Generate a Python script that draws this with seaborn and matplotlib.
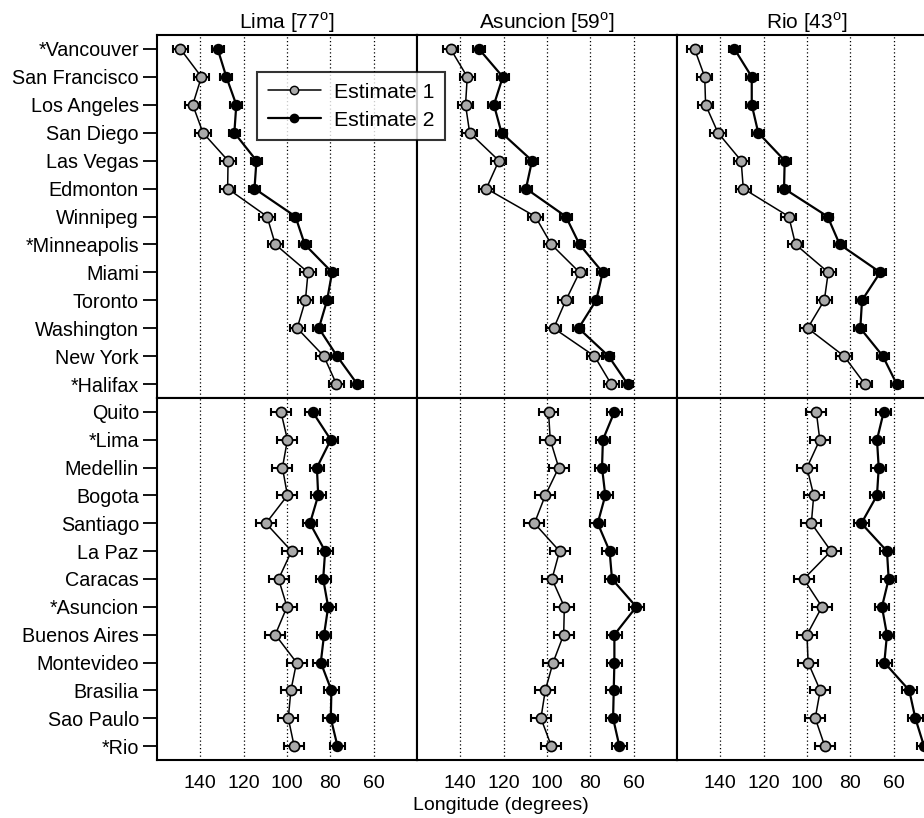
import numpy as np
import pandas as pd
import seaborn as sns
import matplotlib.pyplot as plt
from matplotlib.lines import Line2D

north = ["*Vancouver", "San Francisco", "Los Angeles", "San Diego", "Las Vegas",
         "Edmonton", "Winnipeg", "*Minneapolis", "Miami", "Toronto",
         "Washington", "New York", "*Halifax"]
south = ["Quito", "*Lima", "Medellin", "Bogota", "Santiago", "La Paz", "Caracas",
         "*Asuncion", "Buenos Aires", "Montevideo", "Brasilia", "Sao Paulo", "*Rio"]
panels = ["Lima [77$^{\\rm o}$]", "Asuncion [59$^{\\rm o}$]", "Rio [43$^{\\rm o}$]"]

# estimates (degrees west)
lima_n_e1 = [149.2, 139.5, 143.5, 138.8, 127.2, 127.4, 109.2, 105.4, 90.3, 91.5, 95.3, 83.0, 77.2]
lima_n_e2 = [132.0, 128.0, 123.4, 124.3, 114.1, 115.0, 96.1, 91.8, 79.2, 81.5, 85.3, 76.9, 67.6]
lima_s_e1 = [102.8, 99.8, 102.1, 99.8, 109.7, 97.9, 103.9, 100.0, 105.4, 95.6, 98.2, 99.4, 96.7]
lima_s_e2 = [88.2, 79.8, 86.2, 85.6, 89.4, 82.4, 83.3, 81.0, 82.9, 84.4, 79.5, 79.8, 76.7]

asun_n_e1 = [144.5, 136.8, 137.6, 135.7, 122.2, 128.0, 105.4, 98.0, 85.0, 91.3, 96.9, 78.1, 70.4]
asun_n_e2 = [131.4, 120.4, 124.5, 121.0, 106.9, 109.7, 91.3, 85.0, 74.3, 77.3, 85.4, 71.6, 62.8]
asun_s_e1 = [99.3, 98.5, 94.6, 100.8, 105.8, 94.2, 97.7, 92.0, 92.3, 97.2, 100.8, 102.8, 98.0]
asun_s_e2 = [68.9, 74.2, 74.6, 73.1, 76.6, 71.1, 70.0, 58.8, 68.9, 68.9, 69.2, 69.5, 66.6]

rio_n_e1 = [151.9, 147.2, 146.8, 141.1, 130.4, 129.4, 108.4, 105.3, 90.2, 92.0, 99.7, 82.9, 73.3]
rio_n_e2 = [133.5, 125.5, 125.5, 122.5, 110.3, 110.6, 90.5, 84.9, 66.2, 74.6, 75.4, 65.0, 58.6]
rio_s_e1 = [95.7, 94.1, 100.0, 96.9, 98.0, 88.9, 101.5, 93.1, 100.0, 99.5, 93.9, 96.2, 91.8]
rio_s_e2 = [64.6, 67.7, 66.9, 67.7, 74.9, 63.1, 62.3, 65.4, 63.1, 64.3, 52.8, 50.0, 46.0]

# half widths of the error bars
err_n = [3.5, 2.7]
err_s = [4.6, 3.4]

xticks = [140, 120, 100, 80, 60]

sns.set_style("white")
plt.rcParams["font.family"] = ["Liberation Sans", "DejaVu Sans"]
plt.rcParams["mathtext.fontset"] = "custom"
plt.rcParams["mathtext.rm"] = "Liberation Sans"
for key in ["text.color", "axes.labelcolor", "xtick.color", "ytick.color"]:
    plt.rcParams[key] = "black"

fig = plt.figure(figsize=(9.24, 8.18), dpi=100)

data = [
    [(lima_n_e1, lima_n_e2), (lima_s_e1, lima_s_e2)],
    [(asun_n_e1, asun_n_e2), (asun_s_e1, asun_s_e2)],
    [(rio_n_e1, rio_n_e2), (rio_s_e1, rio_s_e2)],
]

W, H = 924, 818
lefts = [157, 417, 677]
pw = 260
rows = [(35, 398), (398, 760)]

gray = "#a9a9a9"
for c in range(3):
    for r in range(2):
        top, bot = rows[r]
        ax = fig.add_axes([lefts[c] / W, 1 - bot / H, pw / W, (bot - top) / H])
        names = north if r == 0 else south
        errs = err_n if r == 0 else err_s
        pos = np.arange(len(names))
        e1, e2 = data[c][r]
        df = pd.DataFrame({"pos": np.concatenate([pos, pos]),
                           "lon": e1 + e2,
                           "est": ["Estimate 1"] * len(pos) + ["Estimate 2"] * len(pos)})

        for v in xticks:
            ax.axvline(v, color="black", lw=0.9, ls=(0, (1, 2)), zorder=0)

        for k, (est, fc, lw, ms) in enumerate([("Estimate 1", gray, 1.1, 7.3),
                                               ("Estimate 2", "black", 1.6, 7)]):
            sub = df[df["est"] == est]
            ax.errorbar(sub["lon"], sub["pos"], xerr=errs[k], fmt="none", ecolor="black",
                        elinewidth=1.5, capsize=2.8, capthick=1.5, zorder=2)
            sns.lineplot(data=sub, x="lon", y="pos", orient="y", sort=False,
                         estimator=None, color="black", lw=lw, marker="o",
                         markersize=ms, markerfacecolor=fc, markeredgecolor="black",
                         markeredgewidth=1.2, ax=ax, zorder=3, legend=False)

        ax.set_xlim(160, 40)
        ax.set_ylim(len(names) - 0.5, -0.5)
        ax.set_xlabel("")
        ax.set_ylabel("")
        for s in ax.spines.values():
            s.set_color("black")
            s.set_linewidth(1.5)
        ax.set_xticks(xticks)
        if r == 1:
            ax.tick_params(axis="x", length=0, pad=11, labelsize=14)
        else:
            ax.tick_params(axis="x", length=0, labelbottom=False)
        if c == 0:
            ax.set_yticks(pos)
            ax.set_yticklabels(names)
            ax.tick_params(axis="y", left=True, length=10, width=1.3, pad=3,
                           labelsize=14.2, color="black")
        else:
            ax.set_yticks([])
        if r == 0:
            ax.set_title(panels[c], fontsize=15, pad=4)

handles = [
    Line2D([], [], color="black", lw=1.1, marker="o", markersize=6,
           markerfacecolor=gray, markeredgecolor="black"),
    Line2D([], [], color="black", lw=1.6, marker="o", markersize=6,
           markerfacecolor="black", markeredgecolor="black"),
]
leg = fig.legend(handles, ["Estimate 1", "Estimate 2"], loc="upper left",
                 bbox_to_anchor=(257 / W, 1 - 72 / H), fontsize=15.3,
                 frameon=True, fancybox=False, edgecolor="black",
                 handlelength=2.5, borderpad=0.5, labelspacing=0.42,
                 handletextpad=0.6, borderaxespad=0)
leg.get_frame().set_linewidth(1.5)
leg.set_zorder(10)

fig.text(501 / W, 1 - 806 / H, "Longitude (degrees)", ha="center", va="center",
         fontsize=14)

fig.savefig("out.png", dpi=100)
